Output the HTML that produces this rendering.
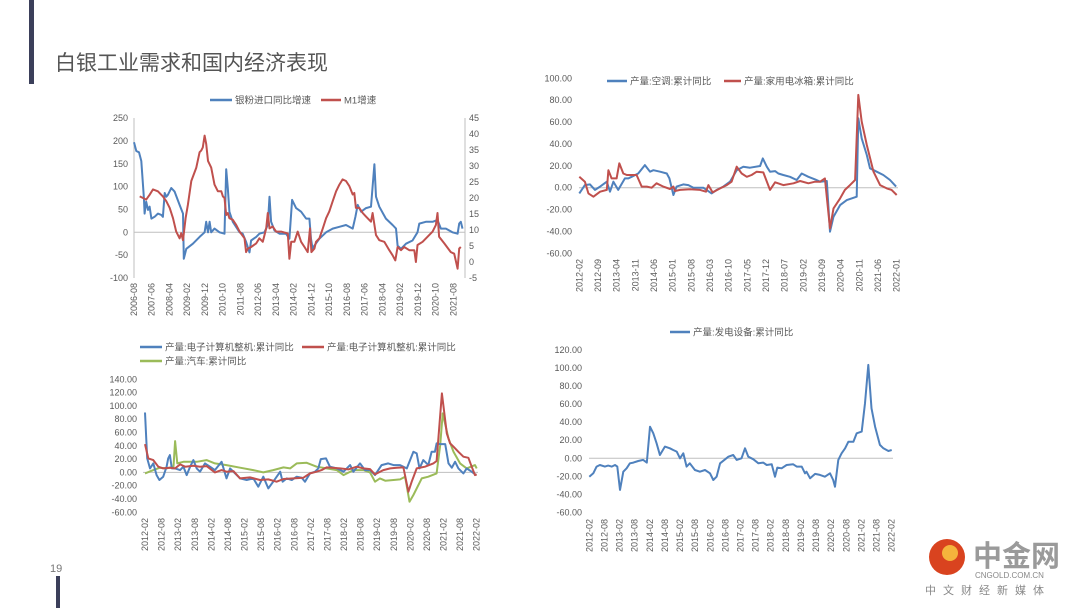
<!DOCTYPE html>
<html><head><meta charset="utf-8"><style>
html,body{margin:0;padding:0;background:#fff;}
body{width:1080px;height:608px;overflow:hidden;position:relative;font-family:"Liberation Sans","Noto Sans CJK SC",sans-serif;}
svg text{font-family:"Liberation Sans","Noto Sans CJK SC",sans-serif;}
</style></head><body>
<svg id="root" width="1080" height="608" viewBox="0 0 1080 608" xmlns="http://www.w3.org/2000/svg">
<rect x="29" y="0" width="5" height="84" fill="#3b3f5a"/>
<text x="55" y="70" font-size="21" fill="#555">白银工业需求和国内经济表现</text>
<rect x="56" y="576" width="4" height="32" fill="#3b3f5a"/>
<text x="50" y="572" font-size="11" fill="#777">19</text>
<g>
<circle cx="947" cy="557" r="18" fill="#d9431f"/>
<circle cx="950" cy="553" r="8" fill="#f5b43c"/>
<text x="973" y="566" font-size="29" font-weight="bold" fill="#9a9a9a">中金网</text>
<text x="975" y="578" font-size="8" fill="#888">CNGOLD.COM.CN</text>
<text x="925" y="594" font-size="11" fill="#888" letter-spacing="7">中文财经新媒体</text>
</g>
<g id="c1"></g>
<g id="c2"></g>
<g id="c3"></g>
<g id="c4"></g>
</svg>
<script>
// ---- Chart 1 data (months since 2006-08) ----
const c1Ticks = ["2006-08","2007-06","2008-04","2009-02","2009-12","2010-10","2011-08","2012-06","2013-04","2014-02","2014-12","2015-10","2016-08","2017-06","2018-04","2019-02","2019-12","2020-10","2021-08"];
const c1LeftTicks = [250,200,150,100,50,0,-50,-100];
const c1RightTicks = [45,40,35,30,25,20,15,10,5,0,-5];
const c1ImportMonths = [0,1.3,2.8,4.1,5.6,6,6.9,7.9,8.8,9.8,11.6,13.5,15.4,16.3,17.3,18.2,19.1,21,22.9,25.7,27.6,28.1,29.5,33.2,37,39.8,40.7,41.7,42.6,43.5,45.4,48.2,51,52,52.9,53.8,55.7,59.5,61.3,63.2,65.1,66,68.9,70.7,73.5,75.4,76.4,77.3,79.2,82,85.7,87.6,89.1,91.4,94.2,97,98.9,99.8,100.7,101.7,104.5,108.3,112,115.8,119.5,123.3,124.8,126.1,128,130.8,133.6,135.5,136.4,138.3,142,145.8,147.7,148.6,150.5,153.3,157,159.8,160.8,164.5,168.3,171.1,173,175.8,179.5,182.4,183.3,184.2,185.2];
const c1ImportVals = [197,178,175,156,75,41,67,49,56,30,34,41,38,34,86,78,82,97,89,60,41,-58,-36,-25,-10,0,23,0,23,0,8,0,-3,138,97,45,23,0,-3,-21,-44,-18,-10,-3,0,16,78,23,4,-3,-3,-14,71,53,45,30,30,-14,-36,-29,-14,0,8,12,16,8,34,60,45,53,56,149,78,56,30,16,8,-29,-36,-25,-18,0,19,23,23,27,8,8,0,-3,19,23,8];
const c1M1Months = [3.2,5.1,6.9,8.8,10.7,13.5,16.3,18.2,20.1,22,23.8,25.7,26.6,27.6,29.1,30.4,32.3,35.1,37,37.9,38.8,39.8,40.7,41.7,43.5,45.4,47.3,49.2,50.1,51,52,52.9,53.8,55.7,57.6,59.5,62.3,63.2,64.2,66,68.9,70.7,72.6,74.5,75.4,76.4,78.2,80.1,82.9,86.7,87.6,88.6,90.4,92.3,94.2,96.1,97.9,99.2,100,101.7,102.6,104.5,106.4,108.3,110.1,112,113.9,115.8,117.6,119.5,121.4,123.3,124.2,125.1,127,128.9,130.8,133.6,134.5,136.4,138.3,141.1,143.9,145.8,147.3,148.6,150.5,152.3,155.2,158,158.9,159.8,162.7,165.5,168.3,170.2,171.1,172,174.9,178.6,180.5,182.4,183.3,184.2];
const c1M1Vals = [20.5,20,19.5,21,22.7,22.1,20.5,19,16.9,13.7,9.5,7.4,9,6.8,13.7,17.9,25.3,29.5,34.3,34.8,35.8,39.5,36.9,31.6,29.5,24.2,22.1,22.1,20.5,20,14.7,15.3,13.7,13.2,11.6,9.5,7.4,3.1,4.2,4.7,5.8,7.4,6.3,10.5,15.3,10.5,11.1,9.5,9.5,8.9,1,6.3,6.3,9.5,6.3,4.7,3.1,10.5,3.1,4.2,6.3,7.4,10.5,13.7,15.8,19,22.1,24.2,25.8,25.3,23.7,21.1,21.6,16.9,16.9,15.3,14.2,12.6,15.3,8.4,6.8,6.3,3.7,2.1,0.5,4.7,3.7,4.7,3.7,3.7,0,5.3,6.3,7.9,9.5,11.6,15.3,7.9,5.8,3.1,2.6,-2.1,4.2,4.7];

// ---- Chart 2 data (months since 2012-02) ----
const c2Ticks = ["2012-02","2012-09","2013-04","2013-11","2014-06","2015-01","2015-08","2016-03","2016-10","2017-05","2017-12","2018-07","2019-02","2019-09","2020-04","2020-11","2021-06","2022-01"];
const c2YTicks = [100,80,60,40,20,0,-20,-40,-60];
const c2AcMonths = [0,2.1,4,5.9,7.8,10.3,11.5,12.8,14.6,17.1,18.4,19.6,22.1,24.6,26.5,27.8,30.3,32.8,33.8,35.3,36.5,39,40.9,42.8,46.5,49.6,51.5,54,56.5,59,61.5,64,67.8,68.8,70.3,71.5,73.4,74.6,76.5,79,81.5,83.4,85.9,88.4,90.3,92.8,94,95.3,97.8,100.3,102.1,104,104.6,105.9,107.8,109,111.5,114,116.5,118.8];
const c2AcVals = [-5.2,2.4,3,-2,1,5.5,-3.7,5.5,-2,8.5,8.5,10,13,20.7,14.6,16,14.6,13,8.5,-6.7,1,3,2.4,0,0,-5.2,-2,1,5.5,16,19.2,18.3,19.8,26.8,19.2,14.6,15.2,13,11.6,10,7,13,10,7.6,5.5,6.1,-40.2,-26.5,-15.9,-11.3,-9.8,-8.2,63.4,45.1,29.9,17.7,14.6,11.6,7,1];
const c2FrMonths = [0,2.1,3.4,5.3,7.8,10.3,10.9,12.1,14,15,16.5,17.8,19,21.5,23.4,25.3,27.1,29,31.5,34,35.3,35.9,37.8,41.5,45.3,47.5,48.4,50,52.8,55.3,57.1,59,60.9,62.8,64.6,66.5,69,71.5,73.4,76.5,80.3,82.8,85.9,88.4,90.3,92.1,94,95.3,97.8,99.6,101.5,103.4,104.6,105.9,107.8,110.3,112.8,115.3,117.1,119];
const c2FrVals = [10,5.5,-5.2,-8.2,-3.7,-2,16,8.5,8.5,22.3,13,11.6,11.6,11.6,1,1,0,4,1,-1.2,1,-3,-2,-1.5,-2,-3.7,2.4,-4.3,-0.6,2.4,5.5,19.2,13,10,11.6,14.6,14,-2,4.9,2.4,4,6.1,4,5.5,5.5,8.5,-37.2,-18.9,-9.8,-2,2.4,7,84.8,60.4,39,14.6,2.4,-0.6,-2,-6.7];

// ---- Chart 3 data (months since 2012-02) ----
const c3Ticks = ["2012-02","2012-08","2013-02","2013-08","2014-02","2014-08","2015-02","2015-08","2016-02","2016-08","2017-02","2017-08","2018-02","2018-08","2019-02","2019-08","2020-02","2020-08","2021-02","2021-08","2022-02"];
const c3YTicks = [140,120,100,80,60,40,20,0,-20,-40,-60];
const c3BlueMonths = [0,.8,1.8,3,4.2,5.2,6.6,7.8,8.4,9,9.7,10.9,12.7,13.9,15.1,16.3,17.5,18.7,19.9,21.7,23.5,25.3,27.7,29.5,30.8,32.6,34.4,36.8,39.2,41,42.8,44.6,46.4,48.9,49.8,51.3,53.1,54.9,56.7,57.9,59.7,61.5,62.7,63.6,65.5,66.9,69.4,71.8,74.2,75.4,77.8,79.6,81.4,83.2,85.6,88,89.9,92.3,94.7,97.1,98.3,99.3,100.7,102.5,103.7,104.9,105.5,106.8,108.6,109.8,111,112.2,113.4,115.2,116.4,118.2,119.8];
const c3BlueVals = [90,21,6,13.5,-4,-11.5,-6.5,8.5,21,26,6,6,3.5,8.5,-4,8.5,18.5,6,1,13.5,8.5,3.5,16,-9,6,-1.5,-9,-11.5,-9,-21.5,-6.5,-24,-14,1,-14,-9,-11.5,-6.5,-8,-14,-1.5,1,6,20,21,8.5,6,1,11,1,13.5,3.5,3.5,-4,11,13.5,11,11,6,31,28.6,6,18.5,11,31,31,43.6,42.6,42.6,13.5,7,16,6,-1.5,6,1,-4];
const c3RedMonths = [0,1.2,3,4.8,6.6,9,10.9,12.7,14.5,17.5,19.9,22.3,25.3,27.7,29.5,32,34.4,38,41.6,44.6,47.6,50.1,53.7,57.3,59.7,62.1,63.9,65.7,70.6,73.6,76.6,79,81.4,83.2,86.2,88.7,91.1,93.5,95.3,96.5,98.3,101.3,104.3,105.5,107.4,109.2,110.4,111.6,113.4,115.2,117,118.2,119.4,120];
const c3RedVals = [42.6,21,18.5,8.5,6,7,6,12,8.5,10,8.5,9.5,0,3.5,1,2,-9,-7.5,-11.5,-10.5,-14,-10,-9,-8,-1.5,1,3.5,7.5,6,4.5,8.5,6,5,-3,3.5,6,7,7.5,-29,-14,6,8.5,13.5,17,118.8,58.6,43.6,38.6,31,23.6,22,8.5,-4,-3];
const c3GreenMonths = [0,3,5.4,7.8,10.3,10.9,11.7,13.9,18.7,22.3,25.3,29.5,34.4,39.2,42.8,46.4,50.1,52.5,54.9,58.5,62.1,65.7,69.4,71.8,75.4,79,81.4,83.2,85,86.9,89.9,92.3,94.1,95.7,97.1,100.1,102.5,105.5,106.8,107.7,109.8,111.6,114,116.4,119.4,120];
const c3GreenVals = [-1.5,3.5,7,6,8.5,47,13.5,16,16,18.5,13.5,11,7,3.5,0,3.5,7.5,6,13.5,14.5,8.5,6,3.5,-4,3.5,3.5,0,-14,-9,-12.5,-11.5,-10.5,-6.5,-44,-34,-9,-6.5,-1.5,41,88.7,51,31,13.5,6,11,6];

// ---- Chart 4 data (months since 2012-02) ----
const c4Ticks = c3Ticks;
const c4YTicks = [120,100,80,60,40,20,0,-20,-40,-60];
const c4Months = [0,1.6,2.9,4.2,6.2,7.5,8.9,10.2,11.1,12.2,13.5,14.8,16.1,17.5,19.4,21.4,22.8,24.1,25.4,26.7,28,30,32,33.3,34.7,36,37.3,38.6,39.9,41.9,43.9,45.9,47.9,49.2,50.5,51.9,53.2,55.2,57.1,58.5,60.4,61.8,63.1,65.1,67.1,69,70.4,72.4,73.7,74.6,76.3,78.3,80.9,82.3,84.3,85.6,86.2,87.6,89.6,91.5,93.5,95.5,96.8,97.5,98.8,100.1,101.5,102.8,104.8,106.1,108.1,109.4,110.7,112,113.4,115.3,116.7,118.7,120];
const c4Vals = [-20.3,-16.6,-9.2,-7.4,-9.2,-8.1,-9.2,-7.4,-9.2,-35,-14.8,-11.1,-5.5,-4.8,-3,-1.8,-4.8,35,27.7,16.6,3.7,12.9,11.1,9.2,7.4,0,5.5,-9.2,-5.5,-12.9,-14.8,-12.9,-16.6,-24,-20.3,-5.5,-2.6,1.8,3.7,-1.8,0,11.1,1.8,-1.1,-5.5,-4.8,-7.4,-6.6,-20.3,-10.3,-11.1,-7.4,-6.6,-9.2,-9.2,-16.6,-14.8,-22.1,-17.3,-18.4,-20.3,-16.6,-24,-31.4,-1.8,5.5,11.1,18.4,18.4,27.7,29.5,60.9,103.3,55.3,35,14.8,11.1,8.1,9.2];

const NS = "http://www.w3.org/2000/svg";
const BLUE = "#4f81bd", RED = "#c0504d", GREEN = "#9bbb59";
function mk(parent, tag, attrs, txt) {
  const e = document.createElementNS(NS, tag);
  for (const k in attrs) e.setAttribute(k, attrs[k]);
  if (txt !== undefined) e.textContent = txt;
  parent.appendChild(e);
  return e;
}
function yLabels(g, ticks, ys, x, anchor, fmt) {
  ticks.forEach(t => {
    const el = mk(g, "text", {x: x, y: ys(t) + 3, "font-size": 9, fill: "#595959", "text-anchor": anchor}, fmt(t));
    
    
  });
}
function xLabels(g, ticks, xs, step, top) {
  ticks.forEach((t, i) => {
    const x = xs(i * step);
    const el = mk(g, "text", {x: 0, y: 0, "font-size": 9, fill: "#595959", "text-anchor": "end", transform: `translate(${x + 3},${top}) rotate(-90)`}, t);
    
    
  });
}
function series(g, ms, vs, xs, ys, color, name) {
  const pts = ms.map((m, i) => xs(m).toFixed(1) + "," + ys(vs[i]).toFixed(1)).join(" ");
  const el = mk(g, "polyline", {points: pts, fill: "none", stroke: color, "stroke-width": 2, "stroke-linejoin": "round"});
  
  
}
function hline(g, x1, x2, y, name) {
  const el = mk(g, "line", {x1: x1, x2: x2, y1: y, y2: y, stroke: "#bfbfbf", "stroke-width": 1});
  
  
}
function legend(g, x, y, color, label, lineLen) {
  const l = mk(g, "line", {x1: x, x2: x + lineLen, y1: y, y2: y, stroke: color, "stroke-width": 2.5});
  
  
  const t = mk(g, "text", {x: x + lineLen + 3, y: y + 3.5, "font-size": 9.5, fill: "#595959"}, label);
  
  
}
const f2 = v => v.toFixed(2);

// Chart 1
(function(){
  const g = document.getElementById("c1");
  const xs = m => 134 + m * 1.774;
  const yl = v => 232.3 - v * 0.457;
  const yr = v => 278 - (v + 5) * 3.2;
  const a1 = mk(g, "line", {x1: 134, x2: 134, y1: 118, y2: 278, stroke: "#bfbfbf"});
  
  
  const a2 = mk(g, "line", {x1: 465, x2: 465, y1: 118, y2: 278, stroke: "#bfbfbf"});
  
  
  hline(g, 134, 465, yl(0), "zero-line");
  yLabels(g, c1LeftTicks, yl, 128, "end", v => String(v));
  yLabels(g, c1RightTicks, yr, 469, "start", v => String(v));
  xLabels(g, c1Ticks, xs, 10, 283);
  series(g, c1ImportMonths, c1ImportVals, xs, yl, BLUE, "series-silver-import");
  series(g, c1M1Months, c1M1Vals, xs, yr, RED, "series-m1");
  legend(g, 210, 100, BLUE, "银粉进口同比增速", 22);
  legend(g, 321, 100, RED, "M1增速", 20);
})();
// Chart 2
(function(){
  const g = document.getElementById("c2");
  const xs = m => 579.3 + m * 2.667;
  const ys = v => 187.7 - v * 1.094;
  hline(g, 579, 898, ys(0), "zero-line");
  yLabels(g, c2YTicks, ys, 572, "end", f2);
  xLabels(g, c2Ticks, xs, 7, 259);
  series(g, c2AcMonths, c2AcVals, xs, ys, BLUE, "series-aircon");
  series(g, c2FrMonths, c2FrVals, xs, ys, RED, "series-fridge");
  legend(g, 607, 81, BLUE, "产量:空调:累计同比", 20);
  legend(g, 724, 81, RED, "产量:家用电冰箱:累计同比", 17);
})();
// Chart 3
(function(){
  const g = document.getElementById("c3");
  const xs = m => 145 + m * 2.764;
  const ys = v => 472.4 - v * 0.665;
  hline(g, 143, 478, ys(0), "zero-line");
  yLabels(g, c3YTicks, ys, 137, "end", f2);
  xLabels(g, c3Ticks, xs, 6, 518);
  series(g, c3GreenMonths, c3GreenVals, xs, ys, GREEN, "series-auto");
  series(g, c3BlueMonths, c3BlueVals, xs, ys, BLUE, "series-computer-blue");
  series(g, c3RedMonths, c3RedVals, xs, ys, RED, "series-computer-red");
  legend(g, 140, 347, BLUE, "产量:电子计算机整机:累计同比", 22);
  legend(g, 302, 347, RED, "产量:电子计算机整机:累计同比", 22);
  legend(g, 140, 361, GREEN, "产量:汽车:累计同比", 22);
})();
// Chart 4
(function(){
  const g = document.getElementById("c4");
  const xs = m => 589.3 + m * 2.52;
  const ys = v => 458.3 - v * 0.904;
  hline(g, 589, 893, ys(0), "zero-line");
  yLabels(g, c4YTicks, ys, 582, "end", f2);
  xLabels(g, c4Ticks, xs, 6, 519);
  series(g, c4Months, c4Vals, xs, ys, BLUE, "series-power-equipment");
  legend(g, 670, 332, BLUE, "产量:发电设备:累计同比", 20);
})();
</script>
</body></html>
